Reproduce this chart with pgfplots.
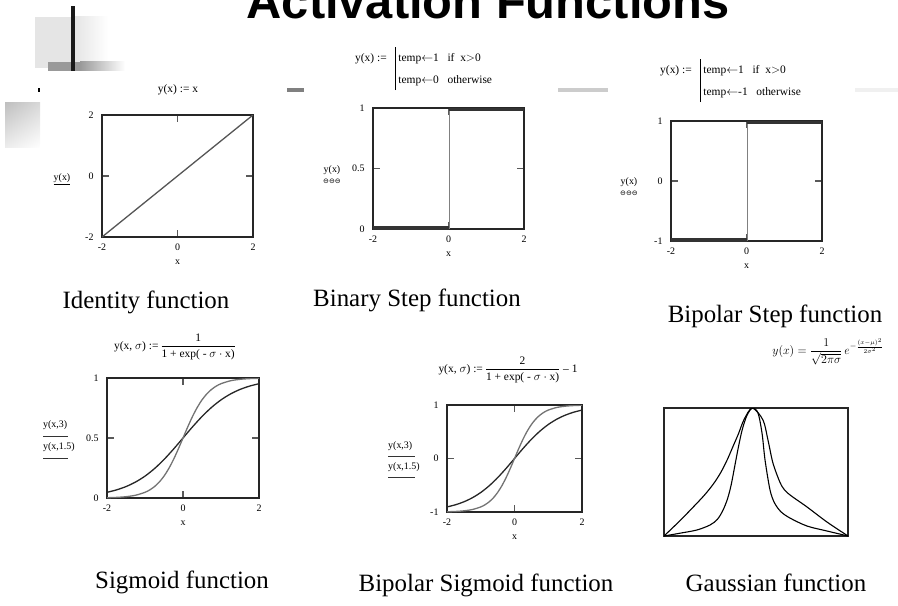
\documentclass[border=0pt]{standalone}
\usepackage{fontspec}
\usepackage{amsmath}
\usepackage{pgfplots}
\pgfplotsset{compat=1.18}
\usetikzlibrary{shadings}
\setmainfont{Liberation Serif}
\newfontfamily\titlefont{Liberation Sans}
\newfontfamily\symfont{DejaVu Sans}
\definecolor{lg}{HTML}{E5E5E5}
\definecolor{mg}{HTML}{999999}
\definecolor{dk}{HTML}{333333}
\definecolor{ln}{HTML}{555555}
\definecolor{gr}{HTML}{808080}
\newcommand{\fs}{\fontsize{10}{12}\selectfont}
\newcommand{\ff}{\fontsize{11.5}{14}\selectfont}
\newcommand{\capf}{\fontsize{25}{30}\selectfont}
\pgfplotsset{mc/.style={scale only axis, anchor=south west,
  axis line style={black!85, line width=1.1bp},
  tick align=inside, major tick length=7bp,
  tick style={draw=black!65, line width=1.4bp},
  ticklabel style={font=\fs},
  /pgf/number format/assume math mode=true,
  xmin=-2, xmax=2, xtick={-2,0,2},
  xlabel={x}, xlabel style={font=\fs, yshift=-3bp},
  xticklabel style={yshift=-3bp},
  yticklabel style={xshift=-5bp}}}
\begin{document}
\begin{tikzpicture}[x=1bp,y=1bp]
\path[use as bounding box] (0,0) rectangle (898,-606);
\clip (0,0) rectangle (898,-606);
% decorations
\fill[lg] (35,-17) rectangle (75,-68);
\shade[left color=lg, right color=white] (75,-17) rectangle (108,-68);
\fill[mg] (48,-62) rectangle (80,-71);
\shade[left color=mg, right color=white] (80,-62) rectangle (125,-71);
\fill[black!90] (71,-6) rectangle (75,-71);
\shade[upper left=black!25, upper right=black!15, lower left=black!7, lower right=white] (5,-103) rectangle (40,-148);
\fill[black] (38,-88) rectangle (40,-92);
\fill[gr] (287,-88) rectangle (304,-92);
\fill[black!20] (558,-88) rectangle (608,-92);
\fill[black!6] (855,-88) rectangle (898,-92);
% title
\node[anchor=base, inner sep=0pt, font=\titlefont\bfseries\fontsize{49}{55}\selectfont] at (488,-19) {Activation Functions};

% 1 identity
\begin{axis}[mc, at={(102bp,-237bp)}, width=151bp, height=122bp,
  ymin=-2, ymax=2, ytick={-2,0,2}]
\addplot[ln, line width=1.3bp] coordinates {(-2,-2) (2,2)};
\end{axis}
\node[font=\ff] at (178,-90) {y(x) := x};
\node[font=\fs] at (62,-179) {\underline{y(x)}};

% 2 binary step
\begin{axis}[mc, at={(373bp,-229bp)}, width=151bp, height=121bp,
  ymin=0, ymax=1, ytick={0,0.5,1}]
\addplot[gr, line width=1.1bp] coordinates {(0.02,0) (0.02,1)};
\addplot[dk, line width=6bp] coordinates {(-2,0) (0,0)};
\addplot[dk, line width=6bp] coordinates {(0,1) (2,1)};
\end{axis}
\node[font=\ff, anchor=base west, inner sep=0pt] at (355,-62) {y(x) :=\hspace{9bp}\renewcommand{\arraystretch}{1.55}\setlength{\arrayrulewidth}{1.3pt}\begin{tabular}[t]{|@{\,}l@{}}temp$\leftarrow$1\ \ \ if\ \ x$>$0\\ temp$\leftarrow$0\ \ \ otherwise\end{tabular}};
\node[font=\fs] at (332,-170) {y(x)};
\node[font=\symfont\fontsize{7}{8}\selectfont, inner sep=0pt] at (332,-181) {⊖⊖⊖};

% 3 bipolar step
\begin{axis}[mc, at={(671bp,-241bp)}, width=151bp, height=120bp,
  ymin=-1, ymax=1, ytick={-1,0,1}]
\addplot[gr, line width=1.1bp] coordinates {(0.02,-1) (0.02,1)};
\addplot[dk, line width=6bp] coordinates {(-2,-1) (0,-1)};
\addplot[dk, line width=6bp] coordinates {(0,1) (2,1)};
\end{axis}
\node[font=\ff, anchor=base west, inner sep=0pt] at (660,-74) {y(x) :=\hspace{9bp}\renewcommand{\arraystretch}{1.55}\setlength{\arrayrulewidth}{1.3pt}\begin{tabular}[t]{|@{\,}l@{}}temp$\leftarrow$1\ \ \ if\ \ x$>$0\\ temp$\leftarrow$-1\ \ \ otherwise\end{tabular}};
\node[font=\fs] at (629,-182) {y(x)};
\node[font=\symfont\fontsize{7}{8}\selectfont, inner sep=0pt] at (629,-193) {⊖⊖⊖};

% 4 sigmoid
\begin{axis}[mc, at={(107bp,-498bp)}, width=152bp, height=120bp,
  ymin=0, ymax=1, ytick={0,0.5,1}]
\addplot[black!85, line width=1.3bp, smooth] coordinates {
(-2,0.0474) (-1.75,0.0676) (-1.5,0.0953) (-1.25,0.1330) (-1,0.1824) (-0.75,0.2451) (-0.5,0.3208) (-0.25,0.4073) (0,0.5)
(0.25,0.5927) (0.5,0.6792) (0.75,0.7549) (1,0.8176) (1.25,0.8670) (1.5,0.9047) (1.75,0.9324) (2,0.9526)};
\addplot[black!55, line width=1.3bp, smooth] coordinates {
(-2,0.0025) (-1.75,0.0052) (-1.5,0.0110) (-1.25,0.0230) (-1,0.0474) (-0.875,0.0676) (-0.75,0.0953) (-0.625,0.1330) (-0.5,0.1824) (-0.375,0.2451) (-0.25,0.3208) (-0.125,0.4073) (0,0.5)
(0.125,0.5927) (0.25,0.6792) (0.375,0.7549) (0.5,0.8176) (0.625,0.8670) (0.75,0.9047) (0.875,0.9324) (1,0.9526) (1.25,0.9770) (1.5,0.9890) (1.75,0.9948) (2,0.9975)};
\end{axis}
\node[font=\ff] at (175,-347) {y(x, $\sigma$) :=\,$\dfrac{\text{1}}{\text{1 + exp( - }\sigma\cdot\text{x)}}$};
\node[font=\fs, anchor=west, inner sep=0pt] at (43,-425) {y(x,3)};
\draw[black!80, line width=0.8bp] (43,-436) -- (68,-436);
\node[font=\fs, anchor=west, inner sep=0pt] at (43,-447) {y(x,1.5)};
\draw[black!80, line width=0.8bp] (43,-458) -- (68,-458);

% 5 bipolar sigmoid
\begin{axis}[mc, at={(447bp,-512bp)}, width=135bp, height=107bp,
  ymin=-1, ymax=1, ytick={-1,0,1}]
\addplot[black!85, line width=1.3bp, smooth] coordinates {
(-2,-0.9052) (-1.75,-0.8648) (-1.5,-0.8094) (-1.25,-0.7340) (-1,-0.6352) (-0.75,-0.5098) (-0.5,-0.3584) (-0.25,-0.1854) (0,0)
(0.25,0.1854) (0.5,0.3584) (0.75,0.5098) (1,0.6352) (1.25,0.7340) (1.5,0.8094) (1.75,0.8648) (2,0.9052)};
\addplot[black!55, line width=1.3bp, smooth] coordinates {
(-2,-0.9951) (-1.75,-0.9896) (-1.5,-0.9780) (-1.25,-0.9540) (-1,-0.9051) (-0.875,-0.8648) (-0.75,-0.8094) (-0.625,-0.7340) (-0.5,-0.6352) (-0.375,-0.5098) (-0.25,-0.3584) (-0.125,-0.1854) (0,0)
(0.125,0.1854) (0.25,0.3584) (0.375,0.5098) (0.5,0.6352) (0.625,0.7340) (0.75,0.8094) (0.875,0.8648) (1,0.9051) (1.25,0.9540) (1.5,0.9780) (1.75,0.9896) (2,0.9951)};
\end{axis}
\node[font=\ff] at (508,-370) {y(x, $\sigma$) :=\,$\dfrac{\text{2}}{\text{1 + exp( - }\sigma\cdot\text{x)}}\text{ -- 1}$};
\node[font=\fs, anchor=west, inner sep=0pt] at (388,-446) {y(x,3)};
\draw[black!80, line width=0.8bp] (388,-456) -- (415,-456);
\node[font=\fs, anchor=west, inner sep=0pt] at (388,-467) {y(x,1.5)};
\draw[black!80, line width=0.8bp] (388,-477) -- (415,-477);

% 6 gaussian
\begin{axis}[scale only axis, anchor=south west, at={(664bp,-536bp)}, width=184bp, height=128bp,
  xmin=0, xmax=1, ymin=0, ymax=1, xtick=\empty, ytick=\empty,
  axis line style={black!85, line width=1.1bp}]
\addplot[black, line width=1.1bp, smooth] coordinates {
(0,0) (0.087,0.12) (0.158,0.225) (0.22,0.32) (0.27,0.41) (0.31,0.50) (0.345,0.60) (0.375,0.70) (0.405,0.80) (0.435,0.91) (0.48,1.0)
(0.538,0.906) (0.565,0.75) (0.592,0.57) (0.630,0.42) (0.655,0.36) (0.69,0.315) (0.777,0.227) (0.886,0.109) (1,0)};
\addplot[black, line width=1.1bp, smooth] coordinates {
(0,0) (0.087,0.022) (0.179,0.047) (0.25,0.086) (0.29,0.13) (0.32,0.20) (0.345,0.29) (0.365,0.40) (0.385,0.55) (0.405,0.70) (0.425,0.83) (0.45,0.94) (0.48,1.0)
(0.511,0.96) (0.533,0.80) (0.549,0.594) (0.576,0.36) (0.60,0.26) (0.635,0.19) (0.685,0.14) (0.777,0.078) (0.886,0.039) (1,0)};
\end{axis}
\node[font=\fontsize{11.5}{14}\selectfont] at (828,-352) {$y(x)=\dfrac{1}{\sqrt{2\pi\sigma}}\,e^{-\frac{(x-\mu)^2}{2\sigma^2}}$};

% captions
\node[font=\capf] at (146,-302) {Identity function};
\node[font=\capf] at (417,-300) {Binary Step function};
\node[font=\capf] at (775,-316) {Bipolar Step function};
\node[font=\capf] at (182,-582) {Sigmoid function};
\node[font=\capf] at (486,-585) {Bipolar Sigmoid function};
\node[font=\capf] at (776,-583) {Gaussian function};
\end{tikzpicture}
\end{document}
